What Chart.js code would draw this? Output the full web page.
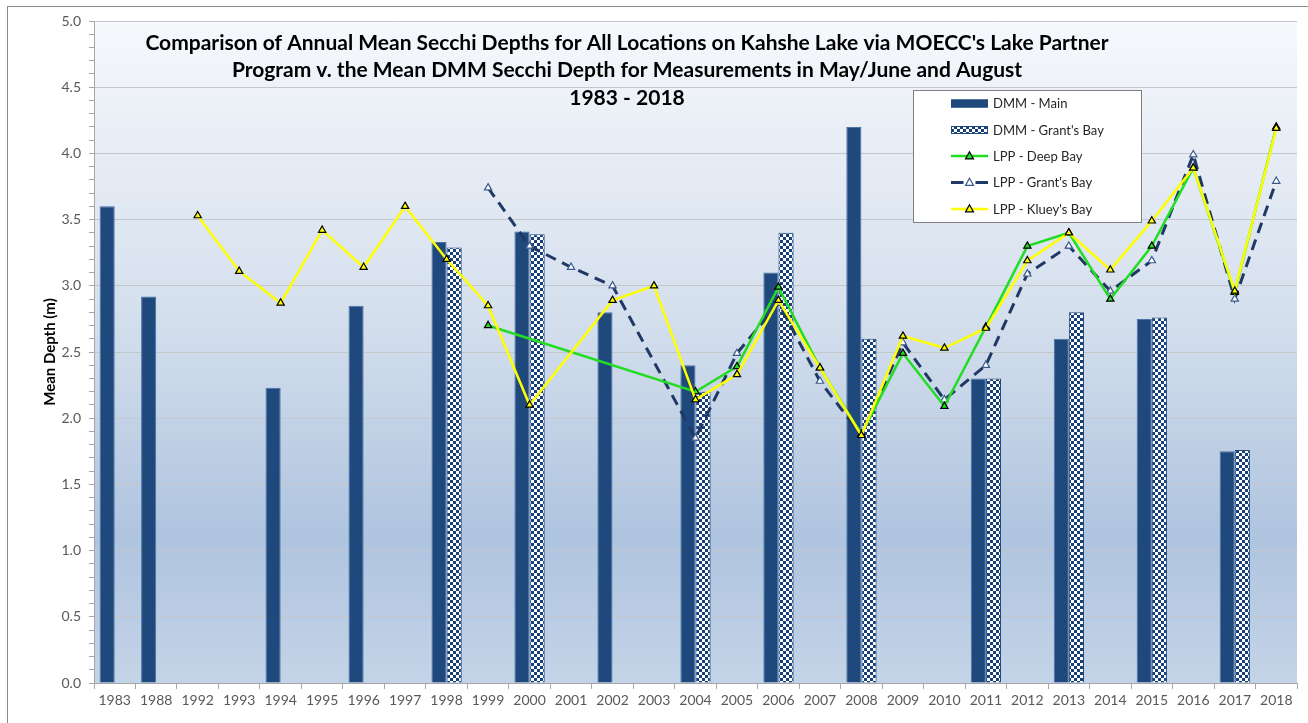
<!DOCTYPE html>
<html>
<head>
<meta charset="utf-8">
<title>Kahshe Lake Secchi Depths</title>
<script src="https://cdn.jsdelivr.net/npm/chart.js@4.4.1/dist/chart.umd.min.js"></script>
<style>
  html, body { margin: 0; padding: 0; background: #fff; }
  #wrap { position: relative; width: 1308px; height: 723px; }
</style>
</head>
<body>
<div id="wrap"><canvas id="chart"></canvas></div>
<script>
// categories (years with data)
const years = ["1983", "1988", "1992", "1993", "1994", "1995", "1996", "1997", "1998", "1999",
  "2000", "2001", "2002", "2003", "2004", "2005", "2006", "2007", "2008", "2009",
  "2010", "2011", "2012", "2013", "2014", "2015", "2016", "2017", "2018"];

// DMM bars
const dmmMain = [3.6, 2.92, null, null, 2.23, null, 2.85, null, 3.33, null,
  3.41, null, 2.8, null, 2.4, null, 3.1, null, 4.2, null,
  null, 2.3, null, 2.6, null, 2.75, null, 1.75, null];
const dmmGrants = [null, null, null, null, null, null, null, null, 3.29, null,
  3.39, null, null, null, 2.2, null, 3.4, null, 2.6, null,
  null, 2.3, null, 2.8, null, 2.76, null, 1.76, null];

// LPP lines
const lppDeep = [null, null, null, null, null, null, null, null, null, 2.7,
  null, null, null, null, 2.2, 2.39, 2.99, 2.38, 1.88, 2.49,
  2.09, 2.69, 3.3, 3.4, 2.9, 3.3, 3.89, 2.95, 4.2];
const lppGrants = [null, null, null, null, null, null, null, null, null, 3.74,
  3.3, 3.14, 3.0, null, 1.85, 2.49, 2.87, 2.28, 1.87, 2.57,
  2.14, 2.4, 3.09, 3.3, 2.96, 3.19, 3.99, 2.9, 3.79];
const lppKluey = [null, null, 3.53, 3.11, 2.87, 3.42, 3.14, 3.6, 3.2, 2.85,
  2.1, null, 2.89, 3.0, 2.14, 2.33, 2.89, 2.38, 1.87, 2.62,
  2.53, 2.68, 3.19, 3.4, 3.12, 3.49, 3.89, 2.96, 4.19];

const titleLines = [
  "Comparison of Annual Mean Secchi Depths for All Locations on Kahshe Lake via MOECC's Lake Partner",
  "Program v. the Mean DMM Secchi Depth for Measurements in May/June and August",
  "1983 - 2018"
];

const NAVY = "#1f497d";
const DASH_NAVY = "#1f3864";
const GREEN = "#22dd22";
const YELLOW = "#ffff00";

const canvas = document.getElementById("chart");
const mainCtx = canvas.getContext("2d");

// checkered fill for the Grant's Bay bars
function checker() {
  const tile = document.createElement("canvas");
  tile.width = 6; tile.height = 6;
  const g = tile.getContext("2d");
  g.fillStyle = "#ffffff";
  g.fillRect(0, 0, 6, 6);
  g.fillStyle = "#17407a";
  g.fillRect(0, 0, 3, 3);
  g.fillRect(3, 3, 3, 3);
  return mainCtx.createPattern(tile, "repeat");
}
const checkPattern = checker();

// plot area background + outer frame
const bgPlugin = {
  id: "bg",
  beforeDraw(chart) {
    const { ctx, chartArea: a } = chart;
    ctx.save();
    ctx.strokeStyle = "#8c8c8c";
    ctx.lineWidth = 1;
    ctx.strokeRect(7.5, 6.5, 1320, 740);
    const grad = ctx.createLinearGradient(0, a.top, 0, a.bottom);
    grad.addColorStop(0, "#f6f8fc");
    grad.addColorStop(0.45, "#d4dfed");
    grad.addColorStop(0.78, "#afc4df");
    grad.addColorStop(1, "#c4d4e8");
    ctx.fillStyle = grad;
    ctx.fillRect(a.left, a.top, a.right - a.left, a.bottom - a.top);
    ctx.restore();
  }
};

function fitFont(ctx, text, weight, family, maxSize, target) {
  ctx.font = `${weight} ${maxSize}px ${family}`;
  const w = ctx.measureText(text).width;
  return Math.min(maxSize, maxSize * target / w);
}

// title drawn inside the plot area
const titlePlugin = {
  id: "insideTitle",
  afterDraw(chart) {
    const ctx = chart.ctx;
    ctx.save();
    const size = fitFont(ctx, titleLines[0], "bold", "Lato", 21, 969);
    ctx.font = `bold ${size}px Lato`;
    ctx.fillStyle = "#000";
    ctx.textAlign = "center";
    ctx.textBaseline = "middle";
    const ys = [43, 70.5, 98];
    titleLines.forEach((t, i) => ctx.fillText(t, 627, ys[i]));
    ctx.restore();
  }
};

function triangle(ctx, x, y, r, fill, stroke) {
  ctx.beginPath();
  ctx.moveTo(x, y - r);
  ctx.lineTo(x + r * 0.95, y + r * 0.7);
  ctx.lineTo(x - r * 0.95, y + r * 0.7);
  ctx.closePath();
  ctx.fillStyle = fill;
  ctx.fill();
  ctx.lineWidth = 1.2;
  ctx.strokeStyle = stroke;
  ctx.stroke();
}

// legend box inside the plot
const legendPlugin = {
  id: "boxLegend",
  afterDraw(chart) {
    const ctx = chart.ctx;
    const box = { x: 913, y: 90, w: 228, h: 132 };
    ctx.save();
    ctx.fillStyle = "#fff";
    ctx.fillRect(box.x, box.y, box.w, box.h);
    ctx.strokeStyle = "#7f7f7f";
    ctx.lineWidth = 1;
    ctx.strokeRect(box.x + 0.5, box.y + 0.5, box.w, box.h);

    const rows = [103.5, 130, 156, 182.5, 209];
    const x0 = 951, x1 = 988, xm = 969.5;
    const ds = chart.data.datasets;
    const size = fitFont(ctx, ds[1].label, "normal", "Lato", 15, 111);
    ctx.font = `${size}px Lato`;
    ctx.textBaseline = "middle";
    ctx.textAlign = "left";

    ds.forEach((d, i) => {
      const y = rows[i];
      if (d.type === "bar") {
        ctx.fillStyle = d.backgroundColor;
        ctx.fillRect(x0, y - 4, x1 - x0, 8);
        ctx.strokeStyle = NAVY;
        ctx.strokeRect(x0 + 0.5, y - 3.5, x1 - x0 - 1, 7);
      } else {
        ctx.strokeStyle = d.borderColor;
        ctx.lineWidth = d.borderWidth;
        ctx.beginPath();
        if (d.borderDash) {
          ctx.moveTo(x0, y); ctx.lineTo(xm - 6, y);
          ctx.moveTo(xm + 6, y); ctx.lineTo(x1, y);
        } else {
          ctx.moveTo(x0, y); ctx.lineTo(x1, y);
        }
        ctx.stroke();
        triangle(ctx, xm, y, 4.2, d.pointBackgroundColor, d.pointBorderColor);
      }
      ctx.fillStyle = "#262626";
      ctx.fillText(d.label, 993, y + 0.5);
    });
    ctx.restore();
  }
};

const isMajor = (v) => Math.round(v * 10) % 5 === 0;

const lineBase = {
  type: "line",
  spanGaps: true,
  pointStyle: "triangle",
  pointRadius: 4.2,
  pointBorderWidth: 1.2,
  pointBorderColor: "#000",
  tension: 0
};

new Chart(canvas, {
  data: {
    labels: years,
    datasets: [
      {
        type: "bar", label: "DMM - Main", data: dmmMain,
        backgroundColor: NAVY, borderColor: "#4a72a8", borderWidth: 1,
        categoryPercentage: 0.73, barPercentage: 1, order: 5
      },
      {
        type: "bar", label: "DMM - Grant's Bay", data: dmmGrants,
        backgroundColor: checkPattern, borderColor: NAVY, borderWidth: 1,
        categoryPercentage: 0.73, barPercentage: 1, order: 5
      },
      {
        ...lineBase, label: "LPP - Deep Bay", data: lppDeep,
        borderColor: GREEN, borderWidth: 2.5, pointBackgroundColor: GREEN, order: 2
      },
      {
        ...lineBase, label: "LPP - Grant's Bay", data: lppGrants,
        borderColor: DASH_NAVY, borderWidth: 3, borderDash: [11, 7],
        pointBackgroundColor: "#ffffff", pointBorderColor: "#3a5a8c", order: 3
      },
      {
        ...lineBase, label: "LPP - Kluey's Bay", data: lppKluey,
        borderColor: YELLOW, borderWidth: 2.5, pointBackgroundColor: YELLOW, order: 1
      }
    ]
  },
  options: {
    responsive: true,
    maintainAspectRatio: false,
    animation: false,
    layout: { padding: { top: 21, right: 11, left: 0, bottom: 0 } },
    plugins: {
      legend: { display: false },
      title: { display: false },
      tooltip: { enabled: false }
    },
    scales: {
      x: {
        grid: { offset: true, drawOnChartArea: false, tickLength: 6, color: "#a6a6a6" },
        border: { color: "#a6a6a6" },
        ticks: {
          font: { family: "Lato", size: 14 }, color: "#595959",
          maxRotation: 0, autoSkip: false, padding: 3
        },
        afterFit(scale) { scale.height = 40; }
      },
      y: {
        min: 0, max: 5,
        border: { color: "#a6a6a6" },
        grid: {
          tickLength: 5,
          color: (c) => isMajor(c.tick.value) ? "#c3c7cc" : "rgba(0,0,0,0)",
          tickColor: "#a6a6a6"
        },
        ticks: {
          stepSize: 0.1, autoSkip: false,
          font: { family: "Lato", size: 14 }, color: "#595959", padding: 8,
          callback: (v) => isMajor(v) ? Number(v).toFixed(1) : ""
        },
        title: {
          display: true, text: "Mean Depth (m)", color: "#000",
          font: { family: "Lato", size: 15, weight: "bold" },
          padding: { top: 41, bottom: 0 }
        },
        afterFit(scale) { scale.width = 94; }
      }
    }
  },
  plugins: [bgPlugin, titlePlugin, legendPlugin]
});
</script>
</body>
</html>
